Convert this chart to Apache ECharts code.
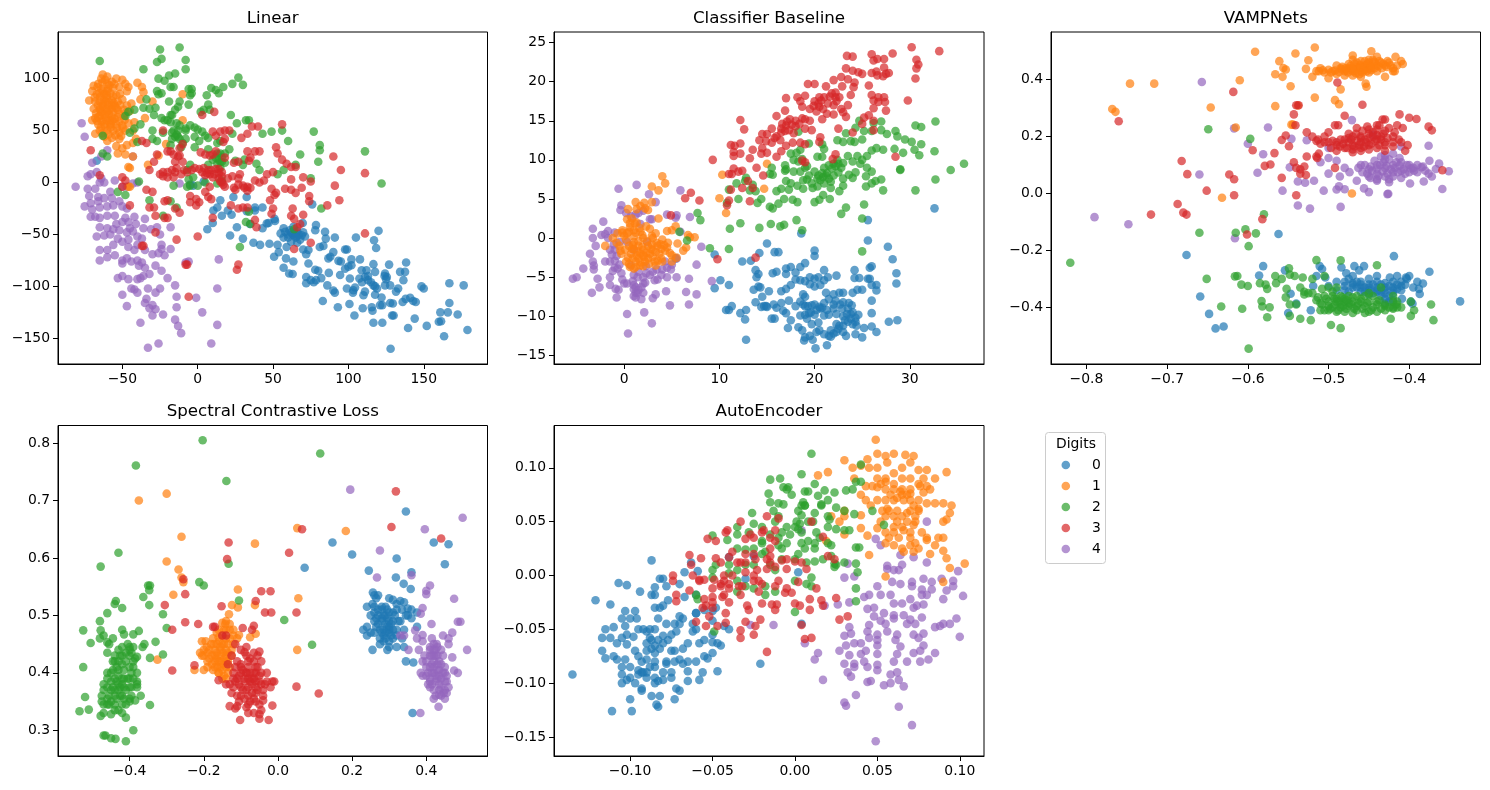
<!DOCTYPE html>
<html>
<head>
<meta charset="utf-8">
<script src="https://cdn.jsdelivr.net/npm/echarts@6/dist/echarts.min.js"></script>
<style>html,body{margin:0;padding:0;background:#fff}#chart{width:1490px;height:790px}</style>
</head>
<body>
<div id="chart"></div>
<script>
// Two-dimensional embeddings of digit classes 0-4, one scatter panel per method.
const digits = ['0', '1', '2', '3', '4'];
const digitColors = ['#1f77b4', '#ff7f0e', '#2ca02c', '#d62728', '#9467bd'];

const linear0 = [[128,-160],[179,-142],[163.5,-148],[139.6,-140],[144,-131],[152,-138],[160,-134],[161.5,-133.5],[161,-125],[166,-125],[172.5,-127],[167,-116],[167,-97],[176.5,-99],[150,-102],[148.5,-100],[143,-114],[144.7,-115],[141,-111],[136,-115],[138,-112],[130,-128],[129,-128],[127.7,-116],[129.5,-116.5],[122.5,-118],[121,-118],[122.5,-135],[116.6,-135],[116,-123.5],[115.5,-120],[109.5,-121],[104,-128],[100.7,-117],[93,-120],[83,-114],[91,-106],[90,-104],[86,-99],[87,-87],[72,-91],[72,-97],[77,-96],[78.5,-94],[78,-84],[73.5,-78],[72,-69],[70,-64.5],[73.5,-65],[63.5,-76],[57,-82],[60.7,-87.6],[63,-88],[58.6,-73],[50.7,-71.5],[53.8,-67],[53,-60],[59,-62],[47.6,-59],[41.4,-60],[37,-58],[30,-54],[21.5,-51],[26,-43],[6.4,-45],[10,-39],[10.4,-27],[13,-24],[15,-17],[16,-32],[20,-27],[22.5,-31],[23.7,-14],[32.5,-14],[32.5,-27.5],[38,-24],[43,-24],[38,-27],[34.7,-40],[43,-44],[45.8,-39.5],[47,-39],[51,-35],[51.3,-37],[57,-44],[58,-47.5],[63.5,-42.7],[61,-46],[64.6,-49],[65.7,-52],[69,-50.7],[71.2,-52],[69.7,-39],[76,-21],[78,-46],[78.5,-41],[84.5,-47.5],[85,-54],[91,-53],[105,-53],[120,-46.5],[117,-55.5],[118.4,-63],[81,-62],[83.4,-61],[90,-67],[97.8,-64.5],[99,-64.5],[88,-71.5],[86.7,-73],[93.4,-75.4],[95,-76],[107.7,-74],[102,-74],[116.6,-78.6],[127,-79],[138.3,-77],[137.6,-86],[134.3,-86],[136.5,-94],[133,-102],[131.6,-105],[127.7,-99],[124.3,-99],[125.5,-91],[124.3,-87.6],[117.7,-86],[112,-84.4],[108.8,-84.4],[100,-81],[97.8,-83],[102,-79.6],[94.5,-89],[101,-92.4],[107.3,-92.4],[111,-91],[113,-94],[116.6,-99],[117.7,-100],[117.7,-108],[110,-108.5],[111,-105],[103.3,-103.7],[104.4,-101],[99,-102],[103,-106],[122,-110.7],[-3,-3],[-5,-2],[4,1],[-67,21],[66,-47],[63,-50],[60,-53],[68,-55],[62,-57],[66,-58],[57,-53],[80,-85],[82,-92],[75,-94],[55,-49],[125,-93],[124,-90],[113,-90],[115,-96],[119,-102],[109,-96],[64,-51],[67,-50],[70,-48],[62,-48],[60,-50],[65,-53]];
const linear1 = [[-72,79],[-70,88],[-69,93],[-66,95],[-63,104],[-60,102],[-57,97],[-54,100],[-50,99],[-48,95],[-46,92],[-40,96],[-37,92],[-36,87],[-47,88],[-52,92],[-56,91],[-60,95],[-64,90],[-67,85],[-62,85],[-58,86],[-54,84],[-68,78],[-65,78],[-61,78],[-57,79],[-53,78],[-50,80],[-47,74],[-44,76],[-38,80],[-69,71],[-65,70],[-61,71],[-57,71],[-53,70],[-49,70],[-45,69],[-68,62],[-65,64],[-61,63],[-57,63],[-53,63],[-49,64],[-70,60],[-66,56],[-62,56],[-58,56],[-54,56],[-50,55],[-46,57],[-42,58],[-35,62],[-65,50],[-60,50],[-56,50],[-52,48],[-48,50],[-43,50],[-68,47],[-62,44],[-57,43],[-52,42],[-60,40],[-54,35],[-50,33],[-47,36],[-43,38],[-41,42],[-53,28],[-48,27],[-43,25],[-45,14],[-46,15],[-33,17],[-26,26],[-21,37],[-10,60],[-10,85],[-30,78],[-46,-4],[-45,-4],[-64,100],[-60,88],[-63,74],[-59,66],[-55,74],[-63,60],[-58,60],[-64,68],[-66.5,92],[-63.2,96.4],[-61.4,99],[-58.6,93.7],[-55.2,94.8],[-68.3,82],[-64.7,82.6],[-60.3,81.5],[-56.1,83.1],[-51.6,85.3],[-66.2,74.4],[-62.8,75.9],[-59.4,74.1],[-55.7,76.6],[-51.4,74.6],[-67.4,66.8],[-63.6,67.2],[-60.1,68.4],[-56.3,67.5],[-52.5,66.4],[-47.8,67.2],[-66.8,59.3],[-63.7,58.8],[-60.6,60.1],[-56.6,59.5],[-52,59],[-48.5,60.2],[-64.2,52.9],[-61.3,53.4],[-57.8,53],[-53.6,52.5],[-49.7,52.3],[-63.4,47.2],[-59.2,46.2],[-54.6,45.4],[-50.8,44.8],[-62.9,88.2],[-59.5,90.3],[-65.1,86.1],[-58.8,70.2],[-61.7,65.5],[-57.6,57.3],[-55.1,61.4],[-64.7,72.3],[-62.3,79.9],[-60.4,84.2],[-56.8,74.9],[-54,71.7],[-66,63.2],[-59,77.2]];
const linear2 = [[-65,117],[-25,128],[-12,130],[-24,119],[-27,116],[-8,118],[-36,109],[-8,109],[-15,105],[-19,103],[-26,100],[-22,98],[-18,92],[-16,92],[27,101],[23,95],[30,94],[17,92],[-6,90],[-4,90],[9,91],[12,89],[14,86],[-27,88],[-24,86],[-26,85],[6,84],[-4,86],[-5,84],[-34,80],[-19,78],[-12,78],[-6,75],[-13,73],[-15,70],[-36,72],[-32,71],[-28,72],[-42,70],[-46,68],[-48,64],[2,68],[4,70],[8,70],[7,75],[-18,65],[-17,65],[-29,65],[-24,62],[-20,60],[-14,57],[-12,55],[-8,52],[-5,55],[-2,53],[0,51],[22,65],[26,57],[32,60],[34,60],[-38,56],[-30,50],[-23,48],[-17,48],[-13,50],[-8,50],[3,49],[5,45],[-17,42],[-15,44],[-13,44],[-8,42],[-2,44],[1,40],[7,43],[-30,42],[-27,40],[-40,39],[-45,48],[-42,52],[-63,45],[13,38],[15,40],[-11,34],[-2,34],[7,32],[13,28],[15,28],[18,28],[21,32],[23,47],[43,47],[49,49],[56,50],[77,49],[60,40],[81,36],[81,31],[80,20],[68,27],[111,30],[122,-1],[-63,28],[-60,25],[65,17],[57,12],[75,4],[53,8],[41,12],[39,18],[31,22],[30,17],[25,21],[15,20],[10,22],[13,18],[15,14],[16,20],[7,17],[-5,17],[-7,12],[-3,5],[-6,3],[-16,-3],[-39,1],[-53,-9],[-48,-12],[-32,-17],[-18,-18],[-14,-24],[-23,-32],[34,-28],[32,-38],[35,-40],[28,-62],[82,-25],[64,-45],[0,-3],[5,0],[13,-1],[16,2],[-7,-4],[-5,-3],[-22,60],[-18,58],[-16,50],[-14,46],[-18,36],[-12,42],[-10,38],[14,22],[16,24],[12,24],[18,19]];
const linear3 = [[11,68],[3,65],[56,56],[40,54],[36,54],[33,47],[29,43],[21,50],[18,50],[15,49],[10,49],[12,45],[18,42],[17,39],[-37,40],[-34,38],[-71,31],[-23,50],[-27,27],[-29,20],[-10,37],[-12,33],[-18,30],[-16,27],[-13,25],[-15,20],[-10,20],[2,29],[5,27],[8,26],[10,27],[-32,12],[-25,8],[-23,10],[-20,10],[-17,12],[-14,14],[-20,5],[-23,6],[-16,5],[-7,10],[-4,12],[-2,14],[1,13],[4,14],[7,12],[9,12],[12,13],[3,10],[6,9],[11,8],[14,9],[16,6],[14,4],[20,4],[23,6],[27,4],[28,8],[33,30],[35,24],[38,30],[41,30],[34,21],[27,20],[24,19],[18,24],[12,30],[52,34],[53,28],[56,22],[59,18],[62,15],[65,15],[90,25],[95,12],[111,9],[91,-3],[94,-17],[86,-22],[74,-13],[74,-18],[75,1],[69,-5],[70,5],[62,3],[50,10],[46,8],[44,2],[41,0],[38,2],[33,-4],[30,-3],[25,-7],[24,-5],[18,-4],[16,0],[8,-4],[5,-9],[7,-14],[1,-19],[-1,-16],[-5,-13],[-5,-19],[-1,-22],[9,-16],[22,-22],[27,-25],[30,-24],[33,-24],[49,-6],[52,-10],[51,-12],[48,-17],[50,-25],[58,-6],[62,-7],[65,-10],[63,-25],[62,-32],[64,-35],[70,-31],[66,-43],[68,-40],[38,-36],[39,-43],[49,-30],[10,-34],[0,-52],[-14,-55],[-28,-48],[-36,-61],[-37,-61],[-8,-79],[27,-79],[26,-84],[-7,-79],[-6,-110],[-50,-4],[-48,2],[-50,5],[-45,-22],[-34,-7],[-30,-9],[-32,-24],[-29,-24],[-28,-32],[-22,-18],[-20,-17],[-15,-25],[-12,-29],[-22,-34],[-20,-34],[-65,7],[111,-49],[64,-64],[75,-58],[-20,30],[-12,26],[-9,12],[-11,8],[-15,10],[14,13],[16,10],[8,8],[10,5],[5,7],[15,1],[17,-2],[27,-2],[31,-5],[33,-8],[35,-5]];
const linear4 = [[-77,57],[-75,44],[-60,31],[-64,25],[-70,19],[-43,25],[-73,6],[-67,10],[-71,8],[-64,4],[-62,0],[-55,2],[-65,0],[-81,-4],[-73,-6],[-68,-6],[-72,-13],[-66,-14],[-58,-9],[-50,-4],[-47,-4],[-40,0],[-43,-1],[-12,-1],[-75,-23],[-71,-20],[-66,-18],[-62,-15],[-57,-15],[-52,-18],[-50,-23],[-47,-25],[-70,-26],[-65,-24],[-60,-23],[-56,-22],[-71,-33],[-68,-33],[-65,-34],[-60,-32],[-55,-32],[-48,-34],[-42,-33],[-46,-38],[-50,-38],[-54,-40],[-41,-40],[-45,-44],[-35,-35],[-65,-43],[-60,-44],[-56,-45],[-52,-46],[-47,-48],[-43,-47],[-36,-44],[-31,-45],[-27,-43],[-18,-43],[-25,-50],[-67,-52],[-62,-51],[-58,-50],[-53,-54],[-50,-57],[-46,-55],[-40,-52],[-37,-54],[-65,-65],[-60,-65],[-56,-60],[-46,-62],[-42,-65],[-40,-60],[-35,-65],[-24,-60],[-24,-64],[-18,-64],[-65,-75],[-60,-72],[-55,-70],[-50,-75],[-47,-73],[-44,-76],[-40,-75],[-37,-77],[-30,-69],[-26,-68],[-22,-70],[-50,-78],[-39,-80],[-35,-82],[-28,-80],[-32,-88],[-36,-90],[-38,-92],[-50,-90],[-53,-92],[-46,-93],[-40,-93],[-24,-85],[-20,-92],[-15,-99],[-8,-77],[-6,-76],[14,-74],[-44,-102],[-42,-103],[-40,-106],[-33,-102],[-25,-102],[-28,-106],[-50,-108],[-47,-119],[-34,-112],[-35,-116],[-30,-118],[-32,-121],[-28,-122],[-30,-128],[-23,-127],[-38,-135],[-14,-110],[-14,-120],[-15,-132],[-13,-138],[-11,-145],[-1,-111],[3,-125],[13,-102],[13,-137],[9,-155],[-26,-155],[-33,-159]];

const baseline0 = [[32.6,3.8],[25.6,2.3],[18.6,0.6],[25.6,-0.3],[27.7,-1.1],[28.2,-2.7],[28.6,-4.5],[28.6,-5.8],[28.7,-10.5],[27.8,-10.7],[26.5,-12],[26.5,-6],[26.5,-6.7],[26,-6],[26,-8],[26,-9.6],[26,-11.3],[25,-12.7],[25.8,-3.8],[26,-3.6],[24.2,-4.1],[24.2,-5.1],[24.7,-5.1],[25.6,-5.2],[22.3,-4.8],[21,-4.1],[20,-2.3],[20,-1.6],[15,-0.7],[15.8,-1.8],[16.2,-1.8],[14.2,-1.9],[12.4,-3],[13.3,-2.9],[9.5,-2.1],[5.4,-2.6],[9.5,-6.4],[10.1,-5.4],[11,-6],[10.7,-9.2],[11,-9.2],[11.3,-8.7],[12.2,-9.6],[12.7,-10.4],[12.8,-9.2],[12.8,-13],[13.8,-4.1],[13.9,-5],[14.1,-4.6],[14.1,-6.2],[14.3,-6.3],[13.6,-6.6],[13.8,-8.2],[14.5,-7.5],[14.7,-8.7],[16,-4.3],[15.6,-4.5],[17,-3.9],[17.5,-3.7],[18,-4.4],[17,-4.6],[18.5,-3.7],[19,-3.2],[15.2,-6.8],[15,-8.8],[15.7,-8.5],[16.5,-8.3],[16.5,-6.8],[17,-6.5],[17.3,-8],[18,-8.7],[17.5,-6],[18,-5.3],[18.5,-5.4],[19,-5.5],[19.5,-5.9],[19.5,-5],[20,-5.2],[20.4,-5],[20.6,-6],[20,-6.2],[21,-5.4],[21.4,-5],[19,-7.5],[18.8,-8.5],[19.3,-8.7],[20,-8.5],[20.5,-8.8],[21,-8.3],[22,-8.5],[23,-8.2],[23.6,-8.3],[22,-7.2],[22.6,-7],[23,-7],[21.2,-7],[21.5,-7.8],[24,-7],[24.5,-6.6],[25,-6.6],[15.5,-10.3],[15.8,-10.3],[16.7,-9.3],[17,-9.6],[16,-8.9],[17.5,-10.5],[17.2,-11.5],[18.3,-11.4],[18.7,-11.8],[18.5,-9.9],[19,-9.8],[19.6,-9.5],[20,-9.8],[19.7,-11],[20.4,-10.8],[21,-9.9],[21.5,-9.8],[23,-10],[23.8,-9.7],[24,-9.5],[24.6,-9.8],[23.5,-10.7],[24,-11],[24.3,-10.2],[22.3,-11],[22.6,-11.2],[23,-11.2],[21.7,-11.8],[22,-12.2],[21.5,-12.5],[22.3,-12],[23,-12],[23.3,-12.5],[24.3,-12.3],[19,-12.7],[19.5,-12.5],[18.9,-13.1],[19.8,-13],[20.1,-14.1],[21.3,-13.7],[20.2,-12],[20.5,-11.8],[20.6,-9],[19,-8.7],[22,-9],[23.5,-9],[14.4,-8.8],[14.9,-8.7],[25.2,-11.5],[25.8,-5.2],[24.4,-11.2],[20.8,-8.9],[21.3,-9.2],[19.7,-8.6],[20.2,-9.2],[22.3,-9.7],[22.9,-9],[23.4,-9.7],[23.8,-10.3],[24.3,-10.7],[23.2,-10.5],[22.7,-8.5],[22.2,-8],[21,-12.3],[21.7,-12.6],[22.5,-11.6],[19.4,-9.6],[18.5,-8.1],[18.8,-7.2],[23.9,-8.6],[19.2,-10.3]];
const baseline1 = [[4,7.9],[4.3,7],[2.9,6.6],[3.6,6.1],[2.9,4.6],[1.2,4.6],[1.7,4.1],[2.1,4.5],[0.4,3.7],[1.3,3.7],[2.2,3.8],[2.5,3.6],[3.6,2.5],[0.3,2.4],[0.8,2.5],[1.3,2],[-0.2,1],[0.5,0.8],[1,1],[1.7,0.8],[2.7,1.2],[3.3,0.6],[4.5,0.9],[5,1],[5.4,1.5],[6.7,0.4],[7.4,0.1],[6.9,0.1],[-2,-1],[-1.2,0],[0,0.3],[1,0.2],[2,0],[3,0],[4,-0.2],[4.6,-0.6],[-0.5,-1],[0.5,-1],[1.5,-1],[2.5,-1],[3.5,-1],[4.5,-1.2],[6.5,-1.2],[6.2,-1.6],[-0.3,-2],[0.7,-2],[1.7,-2],[2.7,-2],[3.7,-2],[5,-2.2],[5.5,-2.5],[0.2,-3],[1.2,-3],[2.2,-3],[3.2,-3],[4,-3],[0.6,-3.7],[1,-3.9],[2,-3.6],[3.3,-3.5],[5,-3],[10.7,3.2],[10,5.1],[10.3,8.1],[15,9.5],[14.7,6.3],[1,-0.5],[2,-1.5],[3,-1.5],[1.5,-2.6],[2.5,-2.6],[0.8,-1.4],[3.8,-0.8],[-0.7,0.6],[0.2,-0.2],[0.6,1.4],[1.2,0.7],[1.9,0.4],[2.4,-0.4],[2.9,0.3],[3.4,-0.6],[3.9,-1.4],[4.3,-1.6],[0.1,-1.5],[0.9,-0.9],[1.4,-1.7],[1.9,-1.1],[2.3,-1.9],[2.8,-1.4],[3.3,-1.8],[3.9,-2.6],[0.4,-2.5],[0.9,-2.6],[1.3,-2.2],[1.7,-3.1],[2.1,-2.4],[2.6,-3.3],[3,-2.4],[3.5,-2.9],[0.5,-3.3],[1.2,-3.7],[1.7,-3.5],[1.1,1.9],[0.6,1.9],[1.6,1.3],[2.3,1.5],[-0.8,-0.6],[-0.4,-1.6],[-0.2,0.7],[4.8,-1.9],[4.2,-0.9],[5.6,-0.7],[2.9,-0.8],[2,-2.2],[1,-1.4],[1.5,-0.4],[0.3,0.6]];
const baseline2 = [[35.7,9.5],[34.3,8.7],[32.7,7.5],[30.6,6.1],[29,8.8],[29,8.7],[32.6,11.1],[31.2,12],[30.6,14.4],[31.2,14.2],[32.7,14.9],[28.5,13.7],[28.7,13],[29.5,12.6],[30.2,12.3],[30.5,11.3],[29.3,10.9],[31,10.6],[28.4,11.4],[27,14.9],[26.2,14.7],[26,13.7],[27,13.8],[27.6,13.3],[26.5,11.5],[27.2,11.3],[26,11.2],[25.5,10.5],[24.7,15],[25.2,13.7],[24.3,14.1],[23.3,13.4],[25,12.6],[24.2,12.3],[23.8,12.4],[23,12.3],[22.4,12.5],[21,11.4],[20.3,10.4],[20.8,10.4],[19.4,12.1],[20.8,12],[18.3,13.6],[18.5,11.3],[18.1,10.9],[17.5,10.8],[17.8,10],[18.7,10.1],[19,9],[16.9,9.3],[17,8.8],[15.5,9],[15.3,8.2],[15.6,8.1],[12.8,7.7],[12.7,7.3],[11.8,7],[13.5,6.8],[13.8,6],[13.2,6.1],[11,6.2],[16,6],[16.5,6.3],[17,7.3],[17.5,7],[18.2,6.7],[18.5,8.5],[17.8,8.5],[16.9,8.6],[19.2,7.5],[19.7,7],[19.8,6.4],[20.3,6.6],[20.6,7.4],[21,7],[21.3,8.3],[21.5,7.6],[22,8],[22.5,9.5],[22.8,9],[22,9.5],[21,9],[20,8.5],[19.4,8],[23,7.6],[24,7.7],[24.8,9.5],[25.4,7.9],[26,7],[26.4,7.3],[27.2,6.1],[25.4,6.6],[23,6.7],[22.6,6],[21.7,6.4],[20.9,5.5],[21.6,5],[20.5,4.9],[20,4.6],[14,4.5],[14.4,5],[15.3,4],[15.6,3.8],[16.2,4.4],[16.8,5],[17.7,4.9],[18.2,4.6],[23.3,3.9],[22.8,3.1],[25.2,4.3],[25,2.5],[7.7,3.2],[8,2.3],[11.1,1.2],[12.2,1.9],[14.2,1.3],[15.4,1.8],[16.4,1.5],[16.8,1.7],[18.1,2.3],[18.7,1],[11,-1.4],[9,-1.3],[25,-1.7],[5.8,0.8],[6.6,-0.3],[10.8,4.5],[12,5],[23.5,10.5],[24.5,10.5],[25,10],[24,9.8],[26,8.5],[25.5,9],[27,7.5],[20.3,7.6],[20.8,8.3],[21.2,8],[21.8,8.9],[22.2,9.2],[21.5,9.3],[20.9,7.8],[21.7,7.2],[20.4,8],[22.5,8.4],[23,9.6],[22.4,10],[23.6,8.1],[24.3,8.4],[18.8,6.3],[19.2,9.2],[18.3,9.8],[17.3,6.2],[18.8,7.4]];
const baseline3 = [[33.1,23.9],[30.2,24.4],[30.7,22.8],[30.9,22.2],[30.7,21.7],[30.6,20.4],[29.8,17.6],[28.2,23.6],[27.3,22.9],[26.6,22.9],[26,23.5],[26.2,22.7],[24,23.2],[23.4,23.3],[27.3,21.8],[27.8,21.1],[27.5,21],[26.5,21.3],[26.6,20.8],[26,21.1],[27.2,20.7],[23.3,21.7],[24,21.4],[24.6,21.2],[25,21],[22.8,20.6],[23.5,20.3],[24.2,19.9],[22,20.2],[24.1,19.3],[22.9,19.4],[25.7,19.5],[26,18.3],[26.7,18],[27.3,18],[26.2,17.6],[26.7,17.4],[27.4,17.4],[27.5,16.3],[26.2,16.6],[25.7,15.7],[25.2,15.4],[25,14.6],[26.2,15],[26.2,13.8],[24,13.5],[22.5,14],[23.3,15.5],[23.5,17],[23.8,18.3],[19.3,19.7],[20,19.7],[21.2,19.4],[22.2,18],[21.8,18.5],[21,18],[20.5,18],[20,17.5],[19,18.2],[18.2,18],[17,17.9],[18.5,17.5],[18.7,16.8],[19.5,16.5],[20.5,16.8],[22,17],[22.8,16.5],[23,16.1],[21.3,15.9],[22,15.8],[20.8,15.2],[19.5,15],[18.7,15.3],[18,15],[18,14.3],[17,14.4],[16.5,14],[16,15.6],[16.9,16.3],[15.5,14],[15,13.3],[14.5,13.3],[16,13],[16.5,13.5],[17.8,13.4],[19,14],[19.7,13.8],[20.6,12.9],[20.5,12.3],[15.5,12.2],[14.5,11.5],[14.2,12.5],[13.5,11.3],[13.2,10.2],[14.4,10.8],[15,10.9],[16,10.4],[16.5,11.1],[17,11.8],[17.7,12.2],[18.5,12.2],[19,12],[19,9.7],[18.7,9.9],[22.2,10.7],[21.9,10.1],[28.5,10.4],[12.2,15.1],[12.6,13.9],[11.2,11.9],[11.6,11.8],[12.2,12.1],[11.5,11],[11.5,10.5],[12.2,10.8],[9.3,10],[11,8.2],[11.3,8.2],[11.5,8.9],[12,8.5],[12.4,8.6],[13.9,9],[14.6,8],[12.4,6.4],[13,7.3],[13.5,6.4],[13.2,4.7],[11,4.8],[10.8,4.2],[11.2,6.2],[7,5.8],[6.4,5.1],[7.9,4.8],[4.9,2.9],[9.8,-2.7],[13.8,-2.5],[16.6,14.6],[17.1,14.9],[17.4,15.2],[17.6,14.5],[16.9,13.7],[17.3,13.8],[20.4,17.2],[20.7,17.6],[20.9,16.5],[21.4,17.2],[22.2,18.6],[22.6,18],[21.6,18.1],[19.9,16.9],[20.2,16.2],[22.3,17.5],[18.4,14.6],[19,15.2],[15.8,12.8],[14.9,12.4],[16.4,12.5]];
const baseline4 = [[-5.4,-5.2],[-5,-5],[-4.3,-3.9],[-3.6,-2],[-3.3,-3],[-3.2,-3.5],[-3.2,-4],[-2.8,-5.2],[-2.6,-6.3],[-3.4,-7],[-3.3,1.2],[-3.3,0],[-3,-1],[-2.2,2.1],[-2.4,0.4],[-2,0.5],[-1.7,0.9],[-1,0.7],[-1.7,0],[-1.5,-1.5],[-1,-1.5],[-2,-3],[-1.5,-3],[-1,-2.9],[-1,-3.8],[-0.7,-3.9],[-1.5,-5],[-1.5,-6],[-0.9,-6.5],[-0.6,-6.6],[-0.8,-7.6],[0,-5.8],[0.3,-5.8],[1,-7.4],[1.2,-7],[1,-6.5],[1,-6],[1.4,-7],[1.8,-7.8],[2,-7],[2,-5.8],[2.2,-5.7],[1,-4.7],[1.4,-5],[2,-5],[2.7,-4.7],[3,-4.3],[3.2,-5.4],[3.5,-5.3],[3,-7.7],[3.3,-7.2],[4.4,-6.8],[4.8,-8.6],[0.3,-9.7],[2.1,-9.5],[2.9,-10.9],[0.4,-12.2],[5.5,-5],[4.5,-5],[4.9,-4],[5,-3.4],[4.3,-3],[5.5,-2.6],[6.8,-5.2],[6.5,-6.9],[7.6,-7.2],[6.8,-8.5],[7.6,-3.4],[8.1,-1.1],[9.2,-5.5],[-0.3,4.2],[-0.4,3.6],[0.2,3.2],[0.7,2.8],[1.2,3],[1.5,3.2],[2,3.5],[2.7,2.4],[2.9,2.4],[1.3,6.8],[-0.6,6.3],[2.6,5.6],[3.3,4.6],[4.5,3],[5.5,2.9],[5.4,2.6],[6.9,2.7],[5.9,6.1],[5.9,0.8],[-0.5,-0.5],[0.3,-0.5],[1,-1.5],[2.4,-0.5],[1.7,1.8],[-0.3,-4.5],[0.7,-3.5],[2.3,-3.6],[4,-4],[1.2,-6.3],[1.5,-6.6],[1.2,-7.6],[0.9,-5.5],[1.8,-6.3],[1.5,-4.3],[2.3,-4.5],[-1.3,-2.1],[-0.8,-2.3],[-1.1,-0.8],[-0.5,-3.4],[-1.2,-4.2],[-0.2,-5.3],[3.4,-4],[4.5,-3.8],[3.9,-4.7]];

const vamp0 = [[-.676,-.216],[-.562,-.142],[-.419,-.22],[-.581,-.255],[-.554,-.27],[-.586,-.288],[-.511,-.255],[-.508,-.265],[-.484,-.26],[-.468,-.255],[-.456,-.255],[-.462,-.27],[-.47,-.29],[-.478,-.28],[-.45,-.3],[-.44,-.29],[-.375,-.275],[-.4,-.29],[-.404,-.295],[-.415,-.29],[-.424,-.295],[-.39,-.31],[-.383,-.316],[-.395,-.33],[-.388,-.335],[-.387,-.353],[-.398,-.38],[-.396,-.387],[-.409,-.37],[-.337,-.379],[-.659,-.362],[-.648,-.423],[-.64,-.474],[-.63,-.467],[-.547,-.352],[-.55,-.42],[-.54,-.387],[-.522,-.41],[-.519,-.325],[-.515,-.29],[-.504,-.295],[-.49,-.31],[-.46,-.31],[-.46,-.33],[-.45,-.32],[-.44,-.31],[-.43,-.315],[-.42,-.31],[-.41,-.325],[-.42,-.33],[-.43,-.33],[-.44,-.33],[-.45,-.34],[-.46,-.345],[-.47,-.33],[-.48,-.325],[-.475,-.345],[-.44,-.345],[-.43,-.35],[-.42,-.35],[-.43,-.37],[-.425,-.38],[-.415,-.32],[-.405,-.32],[-.48,-.31],[-.47,-.315],[-.435,-.36],[-.45,-.355],[-.49,-.34],[-.5,-.325],[-.47,-.32],[-.465,-.33],[-.46,-.32],[-.455,-.33],[-.45,-.33],[-.445,-.32],[-.44,-.34],[-.435,-.32],[-.43,-.34],[-.425,-.325],[-.42,-.34],[-.415,-.335],[-.41,-.31],[-.403,-.3],[-.41,-.34],[-.435,-.345],[-.445,-.35],[-.455,-.345],[-.465,-.31],[-.475,-.3],[-.48,-.34],[-.425,-.36],[-.42,-.375],[-.43,-.385]];
const vamp1 = [[-.591,.498],[-.517,.513],[-.541,.492],[-.561,.465],[-.556,.441],[-.553,.436],[-.566,.419],[-.557,.41],[-.525,.468],[-.528,.438],[-.61,.398],[-.547,.377],[-.746,.386],[-.716,.386],[-.768,.297],[-.764,.287],[-.646,.302],[-.566,.307],[-.517,.337],[-.492,.328],[-.487,.314],[-.538,.309],[-.546,.242],[-.544,.242],[-.615,.232],[-.632,-.015],[-.471,0],[-.485,.366],[-.454,.386],[-.453,.375],[-.52,.41],[-.515,.43],[-.51,.44],[-.505,.425],[-.5,.405],[-.5,.435],[-.495,.43],[-.49,.42],[-.49,.45],[-.485,.44],[-.48,.43],[-.48,.415],[-.475,.455],[-.475,.44],[-.47,.43],[-.47,.415],[-.47,.485],[-.465,.46],[-.465,.445],[-.46,.43],[-.46,.41],[-.455,.45],[-.455,.435],[-.45,.46],[-.45,.44],[-.45,.425],[-.447,.5],[-.445,.47],[-.44,.48],[-.44,.45],[-.44,.43],[-.435,.46],[-.43,.45],[-.43,.41],[-.425,.46],[-.42,.44],[-.415,.45],[-.417,.48],[-.42,.43],[-.408,.455],[-.41,.465],[-.455,.465],[-.46,.465],[-.47,.47],[-.418,.43],[-.497,.425],[-.492,.432],[-.487,.427],[-.483,.436],[-.479,.44],[-.476,.425],[-.473,.448],[-.469,.437],[-.466,.423],[-.463,.44],[-.461,.452],[-.458,.425],[-.457,.443],[-.453,.43],[-.452,.455],[-.448,.448],[-.447,.433],[-.443,.44],[-.442,.458],[-.438,.447],[-.437,.465],[-.434,.44],[-.432,.456],[-.428,.445],[-.427,.465],[-.423,.45],[-.468,.456],[-.462,.419],[-.477,.432],[-.483,.445],[-.45,.47],[-.444,.463],[-.507,.433],[-.512,.43],[-.468,.43],[-.456,.435],[-.471,.44],[-.448,.44],[-.46,.445]];
const vamp2 = [[-.82,-.243],[-.649,.226],[-.597,.192],[-.58,-.073],[-.603,-.126],[-.615,-.138],[-.66,-.138],[-.59,-.14],[-.599,-.185],[-.515,-.234],[-.485,-.235],[-.549,-.263],[-.44,-.252],[-.613,-.29],[-.616,-.291],[-.651,-.3],[-.608,-.32],[-.6,-.325],[-.578,-.32],[-.576,-.335],[-.585,-.315],[-.566,-.29],[-.558,-.3],[-.548,-.285],[-.542,-.29],[-.532,-.295],[-.565,-.315],[-.552,-.335],[-.535,-.33],[-.52,-.3],[-.505,-.29],[-.583,-.378],[-.582,-.397],[-.573,-.4],[-.633,-.397],[-.607,-.405],[-.576,-.435],[-.553,-.365],[-.548,-.39],[-.54,-.39],[-.548,-.43],[-.535,-.44],[-.522,-.445],[-.599,-.545],[-.497,-.462],[-.485,-.473],[-.423,-.44],[-.398,-.43],[-.394,-.41],[-.373,-.39],[-.37,-.445],[-.398,-.38],[-.415,-.38],[-.42,-.4],[-.416,-.39],[-.53,-.345],[-.525,-.35],[-.515,-.375],[-.505,-.41],[-.51,-.385],[-.5,-.33],[-.49,-.33],[-.505,-.36],[-.495,-.36],[-.485,-.36],[-.475,-.36],[-.465,-.36],[-.455,-.36],[-.445,-.36],[-.5,-.38],[-.49,-.38],[-.48,-.38],[-.47,-.38],[-.46,-.38],[-.45,-.38],[-.44,-.38],[-.43,-.39],[-.495,-.4],[-.485,-.4],[-.475,-.395],[-.465,-.395],[-.455,-.395],[-.445,-.4],[-.435,-.405],[-.42,-.405],[-.49,-.415],[-.48,-.415],[-.465,-.41],[-.455,-.42],[-.43,-.41],[-.49,-.37],[-.48,-.37],[-.475,-.385],[-.485,-.39],[-.435,-.33],[-.42,-.36],[-.513,-.365],[-.508,-.39],[-.503,-.37],[-.5,-.395],[-.498,-.405],[-.493,-.37],[-.492,-.39],[-.488,-.41],[-.487,-.38],[-.483,-.365],[-.482,-.395],[-.478,-.405],[-.477,-.375],[-.472,-.39],[-.47,-.365],[-.468,-.405],[-.463,-.385],[-.46,-.37],[-.458,-.405],[-.452,-.385],[-.45,-.35],[-.447,-.41],[-.44,-.39],[-.437,-.375],[-.43,-.395],[-.425,-.4],[-.42,-.38],[-.415,-.4],[-.41,-.4],[-.495,-.345],[-.508,-.335],[-.53,-.355],[-.52,-.35],[-.51,-.41],[-.5,-.41],[-.47,-.42],[-.45,-.415],[-.44,-.415]];
const vamp3 = [[-.618,.357],[-.489,.39],[-.76,.254],[-.458,.312],[-.54,.31],[-.537,.31],[-.543,.278],[-.48,.273],[-.433,.26],[-.412,.278],[-.4,.266],[-.391,.262],[-.376,.235],[-.372,.222],[-.541,.24],[-.527,.215],[-.553,.204],[-.558,.188],[-.549,.166],[-.594,.152],[-.567,.142],[-.572,.102],[-.579,.097],[-.682,.114],[-.675,.068],[-.623,.067],[-.617,.05],[-.651,.01],[-.617,-.006],[-.687,-.037],[-.68,-.067],[-.676,-.074],[-.72,-.074],[-.582,-.09],[-.601,-.144],[-.558,.055],[-.54,-.006],[-.543,.11],[-.54,.09],[-.535,.085],[-.53,.095],[-.535,.07],[-.528,.065],[-.527,.13],[-.514,.125],[-.512,.14],[-.359,.082],[-.492,.09],[-.52,.2],[-.513,.19],[-.505,.2],[-.5,.215],[-.492,.24],[-.488,.24],[-.51,.175],[-.5,.18],[-.49,.17],[-.48,.19],[-.47,.2],[-.465,.23],[-.46,.18],[-.45,.21],[-.44,.24],[-.44,.19],[-.43,.22],[-.43,.26],[-.42,.2],[-.415,.24],[-.408,.23],[-.49,.15],[-.48,.16],[-.47,.17],[-.46,.15],[-.45,.17],[-.44,.16],[-.43,.18],[-.42,.165],[-.41,.18],[-.405,.15],[-.475,.21],[-.455,.19],[-.445,.2],[-.435,.2],[-.46,.2],[-.43,.15],[-.47,.145],[-.497,.16],[-.49,.18],[-.486,.165],[-.482,.175],[-.477,.16],[-.475,.18],[-.472,.19],[-.468,.165],[-.465,.185],[-.462,.17],[-.46,.195],[-.456,.165],[-.453,.18],[-.45,.195],[-.447,.175],[-.445,.215],[-.442,.185],[-.44,.205],[-.437,.17],[-.435,.19],[-.432,.21],[-.43,.17],[-.427,.195],[-.425,.23],[-.42,.18],[-.418,.215],[-.413,.19],[-.45,.225],[-.44,.225],[-.437,.24],[-.452,.235],[-.458,.22],[-.466,.21],[-.475,.195],[-.485,.19],[-.495,.185],[-.505,.18],[-.515,.185],[-.515,.13],[-.47,.155],[-.46,.16],[-.45,.155],[-.402,.17]];
const vamp4 = [[-.657,.392],[-.617,.229],[-.575,.232],[-.546,.192],[-.527,.187],[-.6,.175],[-.581,.138],[-.66,.067],[-.588,.073],[-.548,.092],[-.538,.042],[-.557,.01],[-.538,-.042],[-.523,-.053],[-.485,-.047],[-.79,-.083],[-.748,-.108],[-.616,-.157],[-.529,.038],[-.518,.045],[-.506,.01],[-.49,.014],[-.487,.025],[-.48,.015],[-.474,.075],[-.465,.045],[-.456,.018],[-.45,.005],[-.427,-.002],[-.426,-.001],[-.359,.016],[-.351,.078],[-.367,.086],[-.363,.105],[-.385,.092],[-.376,.07],[-.382,.042],[-.399,.035],[-.376,.168],[-.471,.258],[-.445,.205],[-.41,.165],[-.5,.16],[-.51,.11],[-.5,.125],[-.49,.115],[-.5,.07],[-.486,.06],[-.48,.09],[-.46,.1],[-.45,.085],[-.45,.06],[-.44,.1],[-.44,.07],[-.44,.05],[-.43,.12],[-.43,.09],[-.43,.06],[-.425,.04],[-.42,.1],[-.42,.075],[-.41,.11],[-.41,.08],[-.41,.055],[-.4,.1],[-.4,.075],[-.395,.09],[-.39,.1],[-.38,.08],[-.375,.115],[-.372,.06],[-.463,.09],[-.458,.075],[-.455,.1],[-.452,.07],[-.448,.095],[-.446,.08],[-.443,.115],[-.44,.088],[-.438,.062],[-.436,.1],[-.433,.078],[-.432,.11],[-.428,.097],[-.427,.07],[-.425,.12],[-.423,.085],[-.42,.06],[-.418,.09],[-.416,.11],[-.414,.075],[-.412,.098],[-.407,.085],[-.405,.07],[-.403,.1],[-.398,.088],[-.394,.08],[-.435,.13],[-.43,.135],[-.425,.05],[-.44,.045],[-.448,.055],[-.412,.125],[-.42,.14],[-.39,.075],[-.383,.095]];

const spectral0 = [[.345,.681],[.147,.627],[.42,.627],[.46,.624],[.2,.606],[.32,.599],[.072,.583],[.45,.589],[.245,.578],[.36,.575],[.318,.566],[.339,.555],[.358,.546],[.256,.54],[.26,.535],[.27,.535],[.3,.53],[.31,.527],[.33,.525],[.34,.523],[.36,.51],[.35,.512],[.26,.515],[.24,.515],[.28,.51],[.29,.515],[.32,.51],[.3,.505],[.27,.5],[.25,.5],[.26,.49],[.28,.49],[.29,.5],[.31,.49],[.325,.49],[.345,.5],[.36,.495],[.375,.505],[.375,.48],[.24,.48],[.25,.47],[.23,.475],[.24,.465],[.26,.47],[.28,.47],[.3,.47],[.32,.475],[.34,.475],[.27,.485],[.295,.48],[.31,.46],[.29,.46],[.275,.45],[.3,.445],[.32,.445],[.34,.445],[.255,.44],[.295,.44],[.345,.42],[.365,.418],[.363,.33],[.3,.49],[.285,.5],[.3,.48],[.285,.475],[.28,.495],[.29,.485],[.295,.495],[.3,.475],[.305,.485],[.31,.475],[.285,.465],[.275,.475],[.265,.48],[.27,.51],[.28,.515],[.31,.505],[.315,.5],[.295,.51],[.29,.47],[.305,.465],[.285,.455],[.3,.455],[.265,.495],[.255,.52],[.26,.505],[.33,.49],[.335,.51],[.35,.5],[.275,.46],[.32,.52],[.265,.53],[.32,.465],[.335,.46]];
const spectral1 = [[-.375,.7],[-.3,.712],[-.26,.637],[-.062,.625],[.052,.652],[.183,.647],[-.3,.594],[-.268,.58],[-.26,.566],[-.255,.558],[-.282,.536],[-.108,.545],[.055,.53],[-.124,.518],[-.108,.514],[-.062,.518],[-.132,.502],[.052,.44],[-.325,.423],[-.15,.487],[-.14,.49],[-.13,.485],[-.16,.475],[-.145,.475],[-.13,.475],[-.175,.46],[-.16,.462],[-.14,.46],[-.12,.465],[-.205,.455],[-.195,.455],[-.18,.45],[-.165,.45],[-.15,.45],[-.135,.45],[-.12,.45],[-.2,.44],[-.185,.44],[-.17,.44],[-.155,.44],[-.14,.44],[-.125,.44],[-.2,.43],[-.17,.43],[-.155,.43],[-.14,.43],[-.19,.42],[-.17,.42],[-.155,.42],[-.14,.42],[-.17,.41],[-.155,.41],[-.14,.41],[-.225,.405],[-.2,.405],[-.19,.41],[-.16,.4],[-.145,.395],[-.14,.39],[-.06,.468],[-.075,.462],[-.105,.466],[-.11,.46],[-.192,.445],[-.178,.43],[-.165,.435],[-.16,.42],[-.148,.435],[-.135,.435],[-.178,.415],[-.163,.41],[-.148,.415],[-.135,.42],[-.173,.45],[-.158,.455],[-.145,.45],[-.13,.46],[-.165,.47],[-.15,.465],[-.14,.475],[-.16,.4],[-.15,.39],[-.135,.4],[-.175,.405],[-.185,.425],[-.125,.43],[-.13,.41],[-.155,.445],[-.145,.425],[-.165,.425],[-.15,.405],[-.12,.475],[-.142,.485],[-.19,.435],[-.21,.435],[-.205,.43]];
const spectral2 = [[-.203,.805],[.114,.782],[-.383,.761],[-.139,.734],[-.43,.609],[-.478,.585],[-.133,.59],[-.212,.558],[-.2,.552],[-.35,.552],[-.345,.552],[-.347,.544],[-.363,.532],[-.347,.518],[-.42,.513],[-.437,.525],[-.44,.52],[-.105,.526],[-.31,.502],[-.46,.504],[-.48,.49],[.017,.492],[-.3,.478],[-.478,.474],[-.525,.474],[-.42,.475],[-.415,.467],[-.39,.467],[-.375,.473],[-.47,.465],[-.48,.46],[-.445,.46],[-.46,.453],[-.455,.45],[-.505,.452],[-.33,.454],[-.36,.45],[-.365,.445],[-.42,.445],[-.4,.445],[-.39,.445],[.092,.449],[-.46,.435],[-.44,.43],[-.42,.43],[-.395,.435],[-.38,.428],[-.31,.432],[-.345,.426],[-.525,.41],[-.44,.42],[-.43,.42],[-.41,.42],[-.39,.42],[-.46,.4],[-.445,.405],[-.43,.405],[-.415,.405],[-.4,.41],[-.38,.4],[-.47,.38],[-.45,.385],[-.435,.385],[-.42,.39],[-.4,.39],[-.38,.385],[-.47,.37],[-.45,.37],[-.43,.37],[-.415,.375],[-.395,.375],[-.475,.36],[-.46,.355],[-.44,.36],[-.42,.36],[-.4,.355],[-.37,.36],[-.52,.358],[-.345,.344],[-.46,.345],[-.44,.345],[-.42,.345],[-.4,.35],[-.385,.352],[-.535,.333],[-.51,.336],[-.47,.33],[-.45,.328],[-.43,.335],[-.42,.33],[-.478,.325],[-.41,.322],[-.39,.3],[-.47,.291],[-.465,.291],[-.45,.286],[-.438,.285],[-.41,.281],[-.475,.35],[-.47,.345],[-.46,.375],[-.455,.36],[-.45,.35],[-.445,.375],[-.44,.37],[-.44,.39],[-.435,.355],[-.43,.38],[-.43,.395],[-.425,.36],[-.425,.375],[-.42,.38],[-.42,.415],[-.415,.39],[-.41,.37],[-.41,.345],[-.405,.39],[-.4,.375],[-.395,.4],[-.4,.43],[-.39,.41],[-.39,.39],[-.385,.425],[-.445,.42],[-.435,.41],[-.425,.43],[-.41,.435],[-.45,.4],[-.46,.39],[-.455,.345],[-.44,.335],[-.415,.355],[-.395,.36],[-.38,.38],[-.38,.375],[-.43,.44],[-.405,.45],[-.4,.44]];
const spectral3 = [[.318,.716],[.306,.654],[.065,.65],[.44,.634],[-.133,.627],[.03,.609],[-.137,.598],[-.255,.563],[-.25,.537],[-.045,.542],[-.02,.542],[-.06,.525],[-.152,.516],[-.305,.518],[-.035,.505],[-.018,.505],[.05,.505],[-.25,.488],[-.215,.485],[-.285,.475],[-.175,.48],[-.17,.48],[-.065,.482],[-.095,.478],[-.07,.475],[-.14,.465],[-.15,.465],[-.115,.45],[-.1,.44],[-.09,.436],[-.085,.43],[-.05,.437],[-.125,.43],[-.225,.413],[-.285,.404],[-.045,.42],[-.075,.425],[-.065,.42],[-.1,.41],[-.08,.41],[-.06,.41],[-.12,.4],[-.1,.4],[-.085,.4],[-.065,.4],[-.045,.4],[-.03,.4],[-.16,.387],[-.11,.39],[-.09,.39],[-.07,.39],[-.05,.385],[-.03,.385],[-.015,.385],[-.01,.385],[-.12,.375],[-.1,.375],[-.08,.375],[-.06,.375],[-.035,.38],[.05,.376],[.11,.364],[-.125,.365],[-.1,.36],[-.08,.36],[-.06,.365],[-.04,.36],[-.02,.375],[-.105,.35],[-.08,.345],[-.06,.35],[-.04,.352],[-.13,.342],[-.115,.338],[-.11,.342],[-.085,.34],[-.065,.33],[-.045,.335],[-.015,.343],[-.08,.33],[-.05,.328],[-.102,.318],[-.05,.32],[-.025,.318],[-.115,.41],[-.105,.395],[-.1,.415],[-.095,.405],[-.09,.385],[-.085,.4],[-.085,.37],[-.08,.39],[-.075,.385],[-.075,.4],[-.07,.38],[-.07,.365],[-.065,.39],[-.06,.4],[-.06,.385],[-.055,.37],[-.055,.41],[-.05,.395],[-.045,.38],[-.04,.37],[-.095,.37],[-.105,.38],[-.11,.36],[-.115,.385],[-.12,.39],[-.09,.355],[-.075,.35],[-.065,.355],[-.05,.345],[-.08,.42],[-.065,.435],[-.055,.43],[-.085,.445],[-.11,.42],[-.135,.415],[-.14,.38],[-.13,.38]];
const spectral4 = [[.195,.719],[.498,.67],[.396,.65],[.275,.613],[.36,.57],[.267,.566],[.41,.552],[.4,.543],[.4,.537],[.475,.529],[.39,.513],[.385,.503],[.414,.485],[.485,.489],[.492,.489],[.37,.474],[.39,.466],[.34,.465],[.33,.465],[.375,.46],[.39,.455],[.46,.46],[.445,.465],[.47,.47],[.415,.46],[.428,.45],[.46,.45],[.352,.44],[.51,.44],[.38,.44],[.41,.44],[.425,.44],[.44,.44],[.47,.427],[.39,.42],[.41,.43],[.43,.43],[.45,.41],[.4,.41],[.415,.415],[.435,.42],[.4,.395],[.42,.4],[.435,.405],[.45,.4],[.475,.404],[.485,.4],[.41,.385],[.425,.385],[.44,.39],[.455,.385],[.42,.37],[.435,.37],[.45,.37],[.42,.355],[.435,.362],[.447,.365],[.433,.341],[.384,.33],[.4,.42],[.405,.4],[.41,.41],[.41,.39],[.415,.43],[.415,.4],[.42,.45],[.42,.42],[.42,.41],[.425,.395],[.425,.43],[.43,.415],[.43,.39],[.43,.405],[.435,.38],[.435,.395],[.44,.415],[.44,.375],[.445,.4],[.45,.385],[.41,.375],[.415,.38],[.425,.36],[.44,.36],[.41,.445],[.42,.44],[.43,.445],[.445,.43],[.395,.43],[.39,.395],[.385,.4],[.405,.38],[.455,.395],[.46,.375],[.455,.365],[.42,.43],[.45,.355]];

const auto0 = [[-.135,-.092],[-.121,-.023],[-.112,-.027],[-.107,-.007],[-.102,-.009],[-.111,-.126],[-.099,-.126],[-.094,-.015],[-.087,-.018],[-.085,-.018],[-.085,-.011],[-.082,-.003],[-.08,-.003],[-.078,-.01],[-.087,.014],[-.07,-.008],[-.067,-.02],[-.067,.003],[-.06,-.018],[-.063,.012],[-.059,.004],[-.085,-.03],[-.082,-.03],[-.08,-.028],[-.077,-.023],[-.103,-.033],[-.097,-.033],[-.096,-.04],[-.105,-.04],[-.103,-.047],[-.115,-.05],[-.11,-.048],[-.117,-.058],[-.112,-.058],[-.105,-.058],[-.098,-.057],[-.108,-.063],[-.102,-.064],[-.092,-.05],[-.09,-.052],[-.085,-.05],[-.083,-.04],[-.078,-.045],[-.073,-.045],[-.07,-.038],[-.068,-.04],[-.06,-.035],[-.062,-.045],[-.06,-.05],[-.05,-.055],[-.043,-.047],[-.04,-.05],[-.06,-.035],[-.055,-.032],[-.05,-.033],[-.088,-.058],[-.08,-.056],[-.075,-.055],[-.072,-.052],[-.09,-.063],[-.085,-.065],[-.077,-.06],[-.117,-.07],[-.115,-.077],[-.11,-.075],[-.108,-.078],[-.103,-.078],[-.097,-.07],[-.093,-.08],[-.09,-.07],[-.087,-.068],[-.082,-.068],[-.078,-.08],[-.073,-.07],[-.068,-.068],[-.065,-.063],[-.07,-.078],[-.065,-.08],[-.06,-.08],[-.055,-.075],[-.05,-.062],[-.047,-.063],[-.045,-.065],[-.05,-.072],[-.053,-.077],[-.058,-.063],[-.105,-.085],[-.1,-.085],[-.095,-.088],[-.088,-.085],[-.085,-.08],[-.078,-.082],[-.105,-.092],[-.1,-.095],[-.093,-.09],[-.09,-.09],[-.085,-.095],[-.08,-.09],[-.065,-.089],[-.056,-.09],[-.047,-.089],[-.105,-.1],[-.102,-.097],[-.097,-.1],[-.093,-.105],[-.085,-.1],[-.083,-.098],[-.08,-.097],[-.075,-.095],[-.065,-.098],[-.058,-.097],[-.093,-.107],[-.072,-.105],[-.07,-.107],[-.087,-.112],[-.082,-.112],[-.084,-.12],[-.083,-.122],[-.1,-.115],[-.073,-.115],[-.021,-.082],[.004,-.045],[.002,.003],[-.048,-.03],[-.03,-.003],[-.04,.017],[-.025,.018],[-.087,-.06],[-.083,-.06],[-.085,-.072],[-.08,-.063],[-.075,-.07],[-.095,-.075],[-.09,-.078],[-.088,-.05],[-.095,-.05],[-.073,-.08],[-.068,-.082],[-.09,-.095],[-.095,-.092],[-.102,-.055],[-.1,-.04],[-.05,-.042],[-.055,-.06],[-.062,-.052],[-.07,-.045],[-.085,-.085],[-.092,-.09],[-.075,-.09]];
const auto1 = [[.049,.126],[.03,.107],[.05,.113],[.055,.111],[.06,.113],[.067,.112],[.072,.111],[.035,.1],[.044,.108],[.04,.102],[.045,.1],[.05,.1],[.056,.105],[.065,.1],[.07,.105],[.075,.098],[.08,.098],[.092,.096],[.02,.096],[.014,.093],[.036,.09],[.085,.09],[.05,.09],[.055,.09],[.06,.095],[.065,.09],[.07,.09],[.078,.09],[.043,.083],[.047,.083],[.055,.08],[.06,.08],[.065,.08],[.07,.08],[.075,.085],[.08,.083],[.04,.075],[.043,.07],[.05,.07],[.055,.07],[.06,.07],[.065,.075],[.07,.07],[.075,.07],[.046,.065],[.08,.067],[.085,.067],[.09,.067],[.095,.065],[.057,.06],[.062,.06],[.07,.06],[.075,.06],[.03,.06],[.03,.055],[.022,.055],[.04,.056],[.055,.055],[.06,.055],[.065,.055],[.073,.055],[.094,.058],[.092,.052],[.09,.05],[.052,.05],[.062,.05],[.068,.05],[.03,.038],[.04,.044],[.05,.044],[.055,.04],[.06,.04],[.065,.045],[.07,.04],[.077,.04],[.044,.037],[.057,.035],[.063,.035],[.07,.035],[.08,.033],[.087,.035],[.09,.035],[.055,.03],[.06,.028],[.065,.025],[.073,.03],[.085,.028],[.09,.023],[.072,.022],[.066,.022],[.045,.019],[.082,.02],[.092,.016],[.103,.011],[.094,.007],[.055,-.001],[.09,-.006],[.019,.032],[.027,.05],[.068,.075],[.066,.07],[.064,.078],[.07,.076],[.062,.072],[.058,.075],[.06,.085],[.055,.087],[.052,.085],[.05,.082],[.072,.065],[.075,.062],[.068,.058],[.073,.05],[.06,.045],[.066,.042],[.072,.047],[.078,.077],[.076,.083],[.082,.08],[.056,.062],[.053,.06],[.08,.035],[.07,.028],[.075,.025]];
const auto2 = [[.01,.113],[.04,.103],[.004,.094],[-.015,.089],[-.009,.09],[.012,.085],[-.004,.082],[-.007,.082],[-.005,.08],[.037,.087],[.04,.087],[.035,.08],[.031,.079],[.006,.078],[.008,.078],[.018,.079],[.024,.077],[-.016,.076],[-.002,.075],[.014,.074],[.02,.07],[-.015,.068],[-.01,.067],[-.007,.066],[.005,.068],[.006,.065],[.016,.066],[.025,.063],[.03,.06],[-.013,.06],[.002,.06],[.004,.056],[.012,.058],[-.026,.058],[.036,.057],[.047,.06],[.054,.047],[-.012,.05],[.001,.05],[.003,.048],[.011,.05],[.021,.052],[-.02,.045],[-.025,.048],[-.035,.045],[-.005,.045],[.002,.043],[.013,.04],[.02,.045],[.025,.043],[.03,.042],[.033,.042],[-.035,.038],[-.028,.04],[-.015,.038],[-.008,.04],[-.003,.038],[.008,.032],[.015,.035],[.02,.03],[-.05,.037],[-.041,.033],[-.035,.025],[-.02,.032],[-.01,.028],[.004,.03],[.012,.025],[.022,.028],[.037,.026],[.039,.026],[-.03,.024],[-.025,.025],[-.018,.022],[-.008,.025],[.002,.02],[.012,.013],[.017,.015],[.022,.018],[.024,.011],[.025,.01],[.037,.011],[.03,.012],[.038,.003],[-.048,.01],[-.05,.005],[-.04,.01],[-.025,.01],[-.012,.005],[.007,.012],[.024,.008],[-.05,-.002],[-.035,-.005],[-.025,-.012],[.01,-.002],[.037,-.012],[-.06,-.018],[-.059,-.022],[-.035,-.015],[-.018,-.018],[-.012,-.015],[.007,-.008],[.037,-.024],[-.049,-.052],[.0,-.034],[-.01,.035],[-.005,.03],[.0,.045],[.004,.04],[.008,.05],[.004,.065],[.006,.065],[.016,.065],[.02,.055],[-.01,.055],[-.02,.02],[-.015,.01],[-.008,.015],[.0,.015],[.006,.025],[.012,.03],[-.03,.01],[-.035,.005],[-.04,.002],[-.03,-.01],[-.018,-.01],[.0,-.005],[.01,-.01],[-.02,.03]];
const auto3 = [[-.033,.05],[-.017,.055],[-.01,.053],[.01,.05],[-.041,.042],[-.042,.04],[-.027,.038],[-.019,.042],[-.012,.042],[-.053,.034],[-.048,.032],[-.03,.034],[-.025,.035],[-.015,.035],[-.012,.032],[.017,.036],[-.064,.019],[-.057,.016],[-.048,.016],[-.038,.022],[-.03,.02],[-.04,.017],[-.045,.012],[-.035,.012],[-.024,.015],[-.015,.018],[-.008,.014],[.0,.013],[.004,.012],[-.063,.01],[-.062,.0],[-.058,-.004],[-.049,-.004],[-.043,.0],[-.038,.0],[-.03,.003],[-.023,.005],[-.017,.006],[-.012,.008],[-.005,.006],[.007,.006],[.02,.018],[.024,.015],[-.074,-.005],[-.074,.0],[-.072,-.018],[-.072,-.024],[-.064,-.014],[-.05,-.012],[-.045,-.008],[-.04,-.012],[-.032,-.01],[-.025,-.005],[-.02,-.008],[-.012,-.01],[-.005,-.012],[.002,-.006],[.013,-.012],[-.055,-.022],[-.05,-.02],[-.043,-.018],[-.033,-.018],[-.022,-.015],[-.006,-.016],[-.002,-.016],[.009,-.022],[.016,-.023],[.025,-.021],[-.05,-.03],[-.056,-.03],[-.04,-.025],[-.029,-.028],[-.02,-.026],[-.014,-.027],[-.011,-.027],[.0,-.026],[.003,-.028],[.017,-.028],[-.052,-.038],[-.042,-.035],[-.028,-.032],[-.012,-.032],[.009,-.032],[-.054,-.047],[-.047,-.047],[-.042,-.044],[-.06,-.043],[-.03,-.043],[-.024,-.047],[-.021,-.041],[.004,-.046],[.027,-.041],[.032,-.038],[-.033,-.051],[-.025,-.055],[-.033,-.058],[.006,-.059],[.01,-.058],[-.017,-.071],[-.043,-.005],[-.04,-.008],[-.045,-.01],[-.055,-.004],[-.058,-.005],[-.022,-.005],[-.025,.0],[-.017,.015],[-.015,.025],[-.02,.04],[-.005,.015],[-.033,.012],[-.03,.012],[-.05,-.025],[-.054,-.028],[-.044,-.02],[-.034,-.01],[-.025,.02],[-.015,.012],[-.01,-.005]];
const auto4 = [[.049,-.154],[.071,-.139],[.063,-.122],[.03,-.118],[.031,-.121],[.037,-.111],[.017,-.097],[.012,-.078],[.014,-.072],[.006,-.063],[-.027,-.046],[-.013,-.046],[.004,.042],[.08,.05],[.049,.034],[.052,.028],[.064,.019],[.072,.017],[.08,.012],[.056,.009],[.063,.005],[.06,.005],[.032,.011],[.03,-.002],[.036,-.001],[.056,.006],[.065,.01],[.099,.004],[.089,-.003],[.078,-.003],[.083,-.006],[.096,-.005],[.096,-.01],[.102,-.019],[.092,-.014],[.083,-.013],[.077,-.013],[.071,-.006],[.071,-.01],[.064,-.008],[.059,-.006],[.05,-.01],[.09,-.022],[.08,-.018],[.077,-.018],[.045,-.018],[.042,-.02],[.052,-.018],[.058,-.018],[.033,-.025],[.018,-.028],[.026,-.027],[.07,-.022],[.065,-.026],[.06,-.026],[.074,-.028],[.078,-.027],[.048,-.03],[.044,-.031],[.054,-.035],[.06,-.037],[.066,-.037],[.072,-.03],[.077,-.039],[.07,-.041],[.048,-.038],[.052,-.042],[.033,-.048],[.045,-.046],[.055,-.045],[.06,-.04],[.068,-.045],[.073,-.045],[.09,-.045],[.094,-.045],[.098,-.04],[.088,-.047],[.085,-.048],[.03,-.056],[.034,-.054],[.044,-.052],[.05,-.055],[.056,-.052],[.062,-.055],[.072,-.055],[.078,-.054],[.1,-.057],[.045,-.058],[.05,-.06],[.061,-.06],[.075,-.058],[.031,-.065],[.036,-.063],[.04,-.063],[.05,-.065],[.064,-.066],[.078,-.065],[.027,-.07],[.033,-.074],[.04,-.073],[.043,-.07],[.05,-.073],[.062,-.073],[.072,-.072],[.076,-.07],[.085,-.072],[.036,-.082],[.03,-.082],[.042,-.08],[.05,-.083],[.06,-.08],[.068,-.08],[.076,-.08],[.081,-.078],[.036,-.085],[.044,-.085],[.05,-.088],[.032,-.09],[.034,-.094],[.058,-.092],[.062,-.09],[.044,-.099],[.046,-.098],[.054,-.102],[.058,-.1],[.063,-.097],[.066,-.103]];

// Axis limits and tick positions per panel, then the frame each one occupies.
const panelTitles = ['Linear', 'Classifier Baseline', 'VAMPNets', 'Spectral Contrastive Loss', 'AutoEncoder'];
const panelData = [
  [linear0, linear1, linear2, linear3, linear4],
  [baseline0, baseline1, baseline2, baseline3, baseline4],
  [vamp0, vamp1, vamp2, vamp3, vamp4],
  [spectral0, spectral1, spectral2, spectral3, spectral4],
  [auto0, auto1, auto2, auto3, auto4]
];
const xTicks = [[-50,0,50,100,150],[0,10,20,30],[-0.8,-0.7,-0.6,-0.5,-0.4],[-0.4,-0.2,0,0.2,0.4],[-0.1,-0.05,0,0.05,0.1]];
const yTicks = [[-150,-100,-50,0,50,100],[-15,-10,-5,0,5,10,15,20,25],[-0.4,-0.2,0,0.2,0.4],[0.3,0.4,0.5,0.6,0.7,0.8],[-0.15,-0.1,-0.05,0,0.05,0.1]];
const xDecimals = [0, 0, 1, 1, 2];
const yDecimals = [0, 0, 1, 1, 2];
const xLimits = [[-92.7,192.3],[-7.38,37.8],[-0.8439,-0.3117],[-0.593,0.565],[-0.1462,0.1147]];
const yLimits = [[-174.7,144.9],[-16.1,26.35],[-0.599,0.5675],[0.2552,0.8307],[-0.1677,0.1393]];
const frames = [
  {left: 58, top: 32, width: 429.5, height: 332},
  {left: 554, top: 32, width: 430, height: 332},
  {left: 1051, top: 32, width: 429.5, height: 332},
  {left: 58, top: 425.5, width: 429.5, height: 330.5},
  {left: 554, top: 425.5, width: 430, height: 330.5}
];

// Minus signs in tick labels are typographic, with a fixed number of decimals per axis.
const tickText = (v, d) => v.toFixed(d).replace('-', '\u2212');
const FONT = '"DejaVu Sans", sans-serif';
const DRAW_ORDER = [0, 4, 1, 2, 3];

function axis(kind, i, ticks, limits, decimals) {
  return {
    type: 'value', gridIndex: i, min: limits[i][0], max: limits[i][1],
    splitLine: {show: false},
    axisLine: {show: true, onZero: false, lineStyle: {color: '#000', width: 1}},
    axisTick: {show: true, length: 5, customValues: ticks[i], lineStyle: {color: '#000', width: 1}},
    axisLabel: {
      show: true, customValues: ticks[i], margin: kind === 'x' ? 8 : 8, color: '#000', fontSize: 13.9, fontFamily: FONT,
      padding: kind === 'y' ? [2, 0, 0, 0] : 0,
      formatter: v => tickText(v, decimals[i])
    }
  };
}

const option = {
  animation: false,
  backgroundColor: '#fff',
  title: panelTitles.map((t, i) => ({
    text: t, textAlign: 'center', padding: 0, left: frames[i].left + frames[i].width / 2, top: frames[i].top - 22,
    textStyle: {fontSize: 16.7, fontWeight: 'normal', color: '#000', fontFamily: FONT}
  })),
  grid: frames.map(f => ({...f, show: true, borderColor: '#000', borderWidth: 1, backgroundColor: '#fff', containLabel: false})),
  xAxis: panelTitles.map((_, i) => axis('x', i, xTicks, xLimits, xDecimals)),
  yAxis: panelTitles.map((_, i) => axis('y', i, yTicks, yLimits, yDecimals)),
  legend: {
    data: digits, orient: 'vertical', left: 1061.5, top: 458, itemWidth: 8.6, itemHeight: 8.6, itemGap: 7,
    icon: 'circle', selectedMode: false, padding: 0,
    textStyle: {fontSize: 13.9, fontFamily: FONT, color: '#000', padding: [0, 0, 0, 17], lineHeight: 14}
  },
  graphic: [
    {type: 'rect', left: 1045, top: 432, shape: {width: 60, height: 131, r: 3}, style: {fill: '#fff', stroke: '#ccc', lineWidth: 1}, z: 0},
    {type: 'text', left: 1056, top: 437, style: {text: 'Digits', fontSize: 13.9, fontFamily: FONT, fill: '#000'}, z: 1}
  ],
  series: panelData.flatMap((classes, i) => DRAW_ORDER.map(c => ({
    type: 'scatter', name: digits[c], xAxisIndex: i, yAxisIndex: i, data: classes[c],
    symbol: 'circle', symbolSize: 8.6, large: false, silent: true,
    itemStyle: {color: digitColors[c], opacity: 0.7, borderWidth: 0}
  })))
};

const chart = echarts.init(document.getElementById('chart'), null, {renderer: 'canvas'});
chart.setOption(option);
</script>
</body>
</html>
